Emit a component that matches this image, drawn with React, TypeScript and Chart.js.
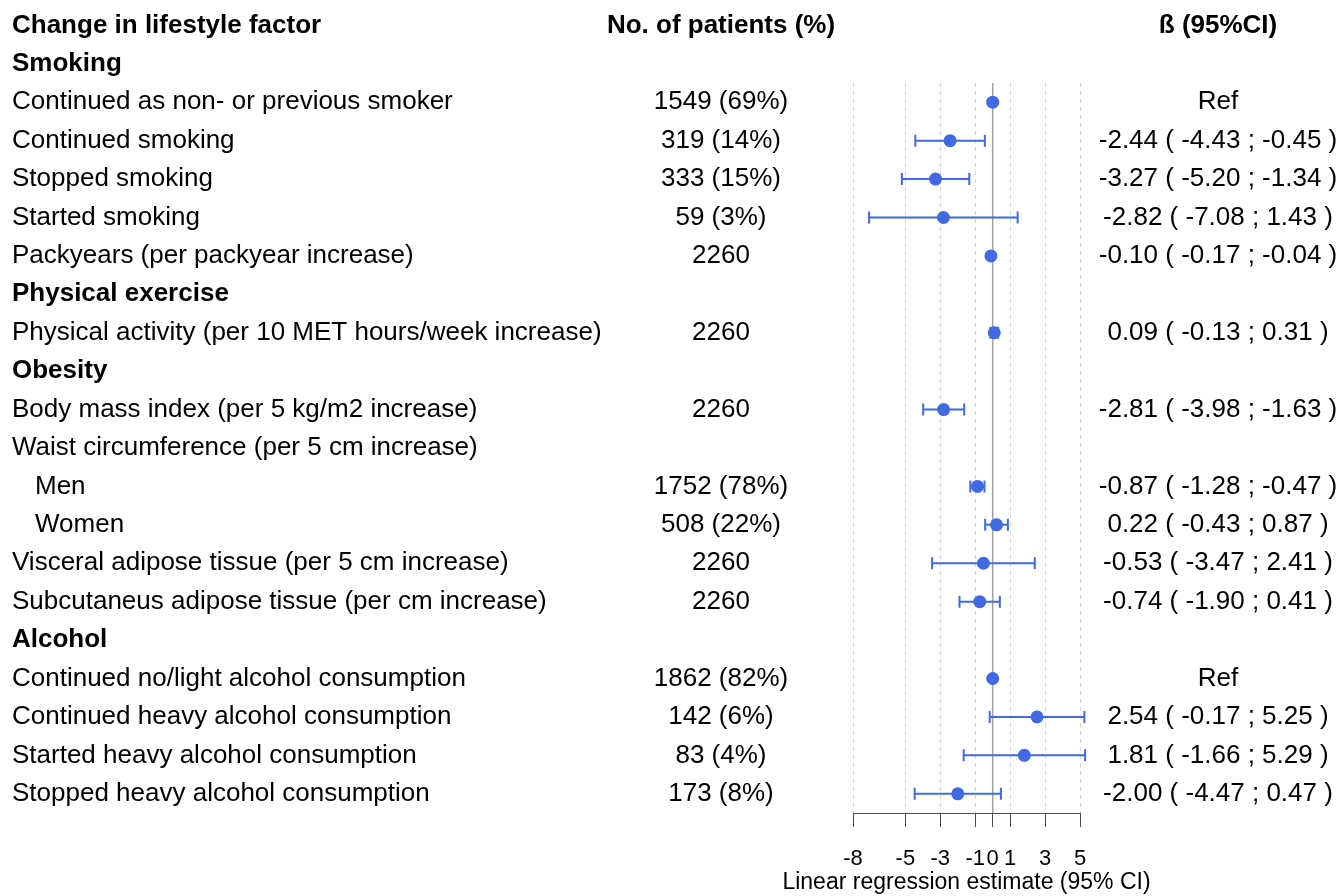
import React, { useEffect, useRef } from "react";
import { Chart, registerables } from "chart.js";

Chart.register(...registerables);

// Table columns
const columnHeaders = ["Change in lifestyle factor", "No. of patients (%)", "ß (95%CI)"];

const factorLabels = [
  "Smoking",
  "Continued as non- or previous smoker",
  "Continued smoking",
  "Stopped smoking",
  "Started smoking",
  "Packyears (per packyear increase)",
  "Physical exercise",
  "Physical activity (per 10 MET hours/week increase)",
  "Obesity",
  "Body mass index (per 5 kg/m2 increase)",
  "Waist circumference (per 5 cm increase)",
  "Men",
  "Women",
  "Visceral adipose tissue (per 5 cm increase)",
  "Subcutaneus adipose tissue (per cm increase)",
  "Alcohol",
  "Continued no/light alcohol consumption",
  "Continued heavy alcohol consumption",
  "Started heavy alcohol consumption",
  "Stopped heavy alcohol consumption",
];

// Group headings (bold) and indented sub-rows, as indices into factorLabels
const groupHeadings = [0, 6, 8, 15];
const subRows = [11, 12];

const patients = [
  "", "1549 (69%)", "319 (14%)", "333 (15%)", "59 (3%)", "2260",
  "", "2260",
  "", "2260", "", "1752 (78%)", "508 (22%)", "2260", "2260",
  "", "1862 (82%)", "142 (6%)", "83 (4%)", "173 (8%)",
];

// Reference categories are plotted at 0 and labelled "Ref"
const isReference = [
  false, true, false, false, false, false,
  false, false,
  false, false, false, false, false, false, false,
  false, true, false, false, false,
];

const estimates = [
  null, 0, -2.44, -3.27, -2.82, -0.1,
  null, 0.09,
  null, -2.81, null, -0.87, 0.22, -0.53, -0.74,
  null, 0, 2.54, 1.81, -2.0,
];
const lowerCI = [
  null, null, -4.43, -5.2, -7.08, -0.17,
  null, -0.13,
  null, -3.98, null, -1.28, -0.43, -3.47, -1.9,
  null, null, -0.17, -1.66, -4.47,
];
const upperCI = [
  null, null, -0.45, -1.34, 1.43, -0.04,
  null, 0.31,
  null, -1.63, null, -0.47, 0.87, 2.41, 0.41,
  null, null, 5.25, 5.29, 0.47,
];

const xTicks = [-8, -5, -3, -1, 0, 1, 3, 5];
const xAxisTitle = "Linear regression estimate (95% CI)";

const FONT = '"Liberation Sans", Arial, sans-serif';
const POINT_COLOR = "#4169E1";

const fmt = (v: number) => v.toFixed(2);

const betaText = (i: number) => {
  if (isReference[i]) return "Ref";
  const e = estimates[i];
  const lo = lowerCI[i];
  const hi = upperCI[i];
  if (e === null || lo === null || hi === null) return "";
  return `${fmt(e)} ( ${fmt(lo)} ; ${fmt(hi)} )`;
};

// Zero reference line and confidence-interval whiskers under the points
const whiskerPlugin = {
  id: "whiskers",
  beforeDatasetsDraw(chart: any) {
    const { ctx, chartArea, scales } = chart;
    const xs = scales.x;
    const ys = scales.y;
    ctx.save();
    const x0 = xs.getPixelForValue(0);
    ctx.strokeStyle = "#a0a0a0";
    ctx.lineWidth = 1.5;
    ctx.beginPath();
    ctx.moveTo(x0, chartArea.top);
    ctx.lineTo(x0, chartArea.bottom);
    ctx.stroke();

    ctx.strokeStyle = POINT_COLOR;
    ctx.lineWidth = 2;
    const cap = 6;
    factorLabels.forEach((_, i) => {
      const lo = lowerCI[i];
      const hi = upperCI[i];
      if (lo === null || hi === null) return;
      const y = ys.getPixelForValue(i + 1);
      const xl = xs.getPixelForValue(lo);
      const xh = xs.getPixelForValue(hi);
      ctx.beginPath();
      ctx.moveTo(xl, y);
      ctx.lineTo(xh, y);
      ctx.moveTo(xl, y - cap);
      ctx.lineTo(xl, y + cap);
      ctx.moveTo(xh, y - cap);
      ctx.lineTo(xh, y + cap);
      ctx.stroke();
    });
    ctx.restore();
  },
};

// Text columns on either side of the plot, plus the axis caption
const tablePlugin = {
  id: "table",
  afterDraw(chart: any) {
    const { ctx, scales, chartArea } = chart;
    const ys = scales.y;
    const size = 26;
    const labelX = 12;
    const indentX = 35;
    const patientsX = 721;
    const betaX = 1218;
    ctx.save();
    ctx.fillStyle = "#000";
    ctx.textBaseline = "middle";

    const y0 = ys.getPixelForValue(0);
    ctx.font = `bold ${size}px ${FONT}`;
    ctx.textAlign = "left";
    ctx.fillText(columnHeaders[0], labelX, y0);
    ctx.textAlign = "center";
    ctx.fillText(columnHeaders[1], patientsX, y0);
    ctx.fillText(columnHeaders[2], betaX, y0);

    factorLabels.forEach((label, i) => {
      const y = ys.getPixelForValue(i + 1);
      const heading = groupHeadings.includes(i);
      ctx.font = `${heading ? "bold " : ""}${size}px ${FONT}`;
      ctx.textAlign = "left";
      ctx.fillText(label, subRows.includes(i) ? indentX : labelX, y);
      ctx.font = `${size}px ${FONT}`;
      ctx.textAlign = "center";
      if (patients[i]) ctx.fillText(patients[i], patientsX, y);
      const b = betaText(i);
      if (b) ctx.fillText(b, betaX, y);
    });

    ctx.font = `23px ${FONT}`;
    ctx.textAlign = "center";
    ctx.fillText(xAxisTitle, (chartArea.left + chartArea.right) / 2, 883);
    ctx.restore();
  },
};

export default function App() {
  const canvasRef = useRef<HTMLCanvasElement | null>(null);

  useEffect(() => {
    if (!canvasRef.current) return;
    const points = estimates
      .map((e, i) => (e === null ? null : { x: e, y: i + 1 }))
      .filter((p) => p !== null);

    const chart = new Chart(canvasRef.current, {
      type: "scatter",
      data: {
        datasets: [
          {
            data: points as any,
            backgroundColor: POINT_COLOR,
            borderWidth: 0,
            pointRadius: 6.5,
            pointHoverRadius: 6.5,
          },
        ],
      },
      options: {
        animation: false,
        responsive: false,
        devicePixelRatio: 1,
        layout: { padding: { left: 853, right: 261, top: 83, bottom: 5 } },
        plugins: {
          legend: { display: false },
          tooltip: { enabled: false },
        },
        scales: {
          x: {
            type: "linear",
            min: -8,
            max: 5,
            position: "bottom",
            afterBuildTicks: (scale: any) => {
              scale.ticks = xTicks.map((v) => ({ value: v }));
            },
            grid: {
              color: (c: any) =>
                c.tick && c.tick.value === 0 ? "rgba(0,0,0,0)" : "#d6d6d6",
              lineWidth: 1,
              tickColor: "#4d4d4d",
              tickLength: 14,
              tickWidth: 1,
            },
            border: { display: true, color: "#4d4d4d", width: 1, dash: [4, 4] },
            ticks: {
              autoSkip: false,
              maxRotation: 0,
              minRotation: 0,
              padding: 21,
              color: "#000",
              font: { family: FONT, size: 22, lineHeight: 1.0 },
              callback: (v: any) => String(v),
            },
            title: { display: false },
          },
          y: {
            type: "linear",
            min: 1.5,
            max: 20.5,
            reverse: true,
            display: false,
          },
        },
      },
      plugins: [whiskerPlugin, tablePlugin],
    });
    return () => chart.destroy();
  }, []);

  return (
    <div
      style={{
        position: "absolute",
        left: 0,
        top: 0,
        width: 1341,
        height: 896,
        background: "#fff",
      }}
    >
      <canvas ref={canvasRef} width={1341} height={896} />
    </div>
  );
}
